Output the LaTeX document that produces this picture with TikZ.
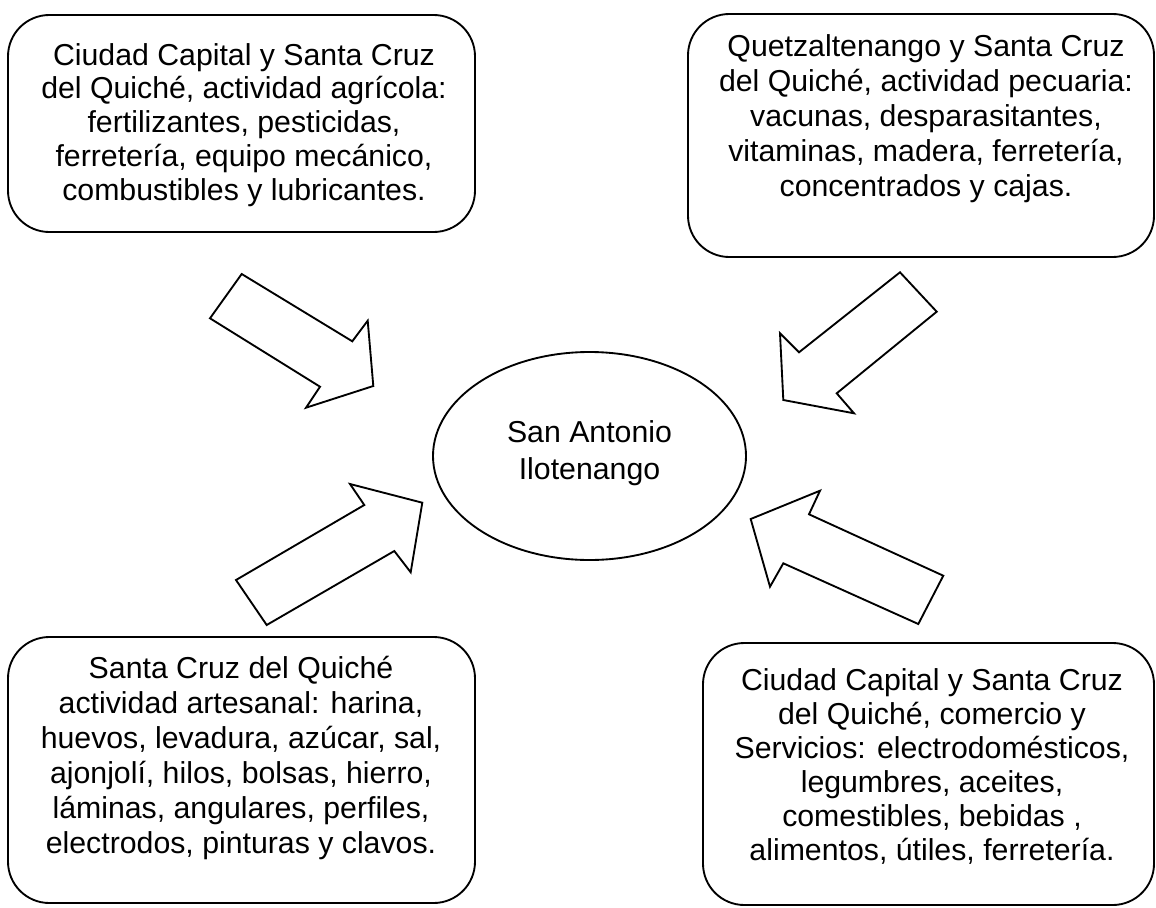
\documentclass[tikz,border=0pt]{standalone}
\usepackage{fontspec}
\setmainfont{Liberation Sans}
\usetikzlibrary{shapes.geometric}
\begin{document}
\begin{tikzpicture}[x=0.75pt,y=-0.75pt,
  box/.style={draw, line width=1.4pt, rounded corners=31pt},
  txt/.style={anchor=base, align=center, inner sep=0pt},
  blockarrow/.style={draw, line width=1.4pt, line join=miter}]
\useasboundingbox (0,0) rectangle (1156,907);
% boxes
\draw[box] (8,15) rectangle (475,232);
\draw[box] (688,14) rectangle (1154,257);
\draw[box] (8,637) rectangle (475,903);
\draw[box] (703,643) rectangle (1154,905);
% texts (base anchor = baseline of last line)
\node[txt, font=\fontsize{22.7}{25.3}\selectfont] (t1) at (244,200)
 {Ciudad Capital y Santa Cruz\\del Quiché, actividad agrícola:\\fertilizantes, pesticidas,\\ferretería, equipo mecánico,\\combustibles y lubricantes.};
\node[txt, font=\fontsize{22.7}{26.2}\selectfont] (t2) at (926,196)
 {Quetzaltenango y Santa Cruz\\del Quiché, actividad pecuaria:\\vacunas, desparasitantes,\\vitaminas, madera, ferretería,\\concentrados y cajas.};
\node[txt, font=\fontsize{22.7}{26.2}\selectfont] (t3) at (241,853)
 {Santa Cruz del Quiché\\actividad artesanal: harina,\\huevos, levadura, azúcar, sal,\\ajonjolí, hilos, bolsas, hierro,\\láminas, angulares, perfiles,\\electrodos, pinturas y clavos.};
\node[txt, font=\fontsize{22.7}{25.5}\selectfont] (t4) at (932,860)
 {Ciudad Capital y Santa Cruz\\del Quiché, comercio y\\Servicios: electrodomésticos,\\legumbres, aceites,\\comestibles, bebidas ,\\alimentos, útiles, ferretería.};
% centre ellipse
\node[draw, ellipse, line width=1.4pt, minimum width=234.75pt, minimum height=156pt] (c) at (589.5,456) {};
\node[txt, font=\fontsize{22.7}{27.5}\selectfont] (ct) at (589.5,479) {San Antonio\\Ilotenango};
% block arrows
\draw[blockarrow] (241.7,274) -- (210,318.3) -- (320,386.7) -- (306,407.7) -- (373.3,386) -- (367.7,320.7) -- (352.3,341.3) -- cycle;
\draw[blockarrow] (900,272.3) -- (936.7,311.7) -- (836.7,393.3) -- (854,413.3) -- (783.3,400) -- (780,333.3) -- (799,352.3) -- cycle;
\draw[blockarrow] (350,484) -- (422.3,502.7) -- (410.7,572.3) -- (394.3,551) -- (266.7,625) -- (236,580) -- (364.3,505) -- cycle;
\draw[blockarrow] (750.7,519) -- (820,490.7) -- (809,514.3) -- (943.3,575.7) -- (918.3,624) -- (783.3,563.3) -- (770,586.7) -- cycle;
\end{tikzpicture}
\end{document}
